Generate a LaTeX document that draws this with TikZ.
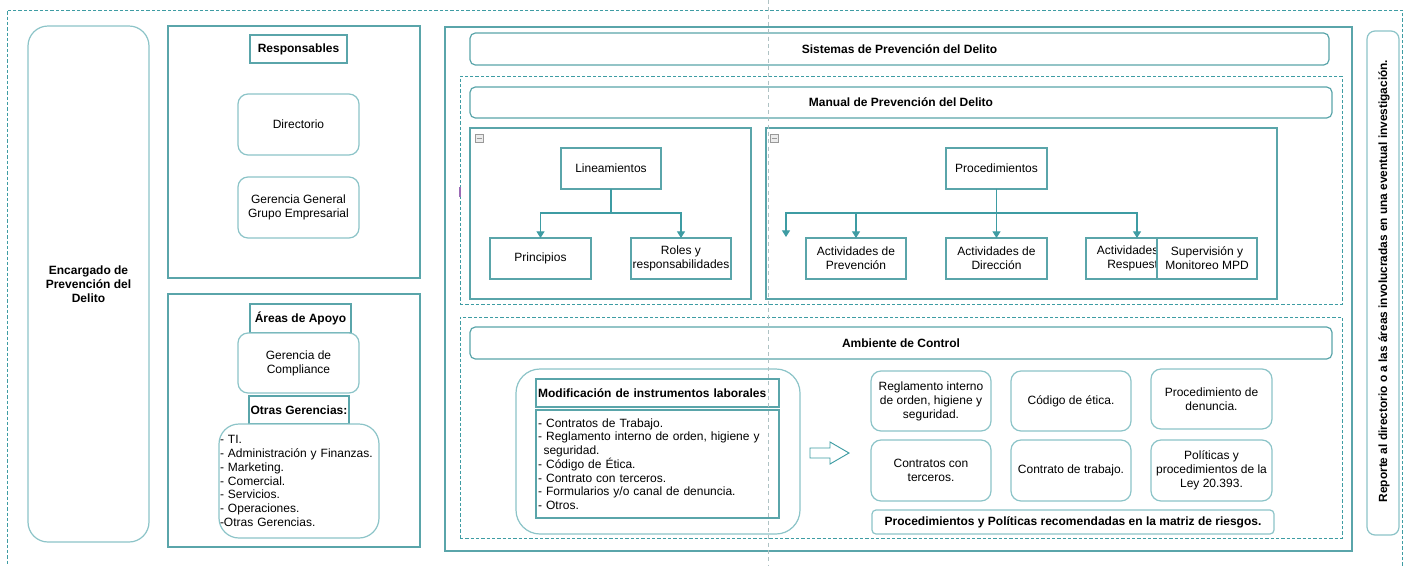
\documentclass[tikz,border=0pt]{standalone}
\usepackage{fontspec}
\setmainfont{Liberation Sans}
\usetikzlibrary{arrows.meta}
\definecolor{tealA}{HTML}{5AA5AA}
\definecolor{tealL}{HTML}{8CC4C8}
\definecolor{tealD}{HTML}{3E9CA3}
\definecolor{guideC}{HTML}{AFC2C4}
\definecolor{markC}{HTML}{9B6BB5}
\tikzset{
  box/.style n args={4}{at={({(#1+#3)/2},{(#2+#4)/2})}, minimum width={(#3-#1)*0.75pt}, minimum height={(#4-#2)*0.75pt}},
  base/.style={inner sep=0pt, outer sep=0pt, align=center, text=black, font=\fontsize{9}{10.5}\selectfont},
  bold/.style={font=\fontsize{9}{10.5}\selectfont\bfseries},
  sq/.style={base, draw=tealA, line width=0.9pt, fill=white},
  rnd/.style={base, draw=tealL, line width=0.9pt, rounded corners=7.5pt, fill=white},
  bar/.style={base, bold, draw=tealA, line width=0.9pt, rounded corners=4pt, fill=white},
  grp/.style={base, draw=tealD, line width=0.6pt, dash pattern=on 2.4pt off 1.6pt},
  guide/.style={draw=guideC, line width=0.5pt, dash pattern=on 3pt off 2.5pt},
  arr/.style={draw=tealD, line width=0.9pt, -{Triangle[width=6pt,length=5pt]}},
  link/.style={draw=tealD, line width=0.9pt},
  minus/.style={draw=gray!80, fill=gray!15, line width=0.4pt},
}
\begin{document}
\begin{tikzpicture}[x=0.75pt,y=-0.75pt]
\useasboundingbox (0,0) rectangle (1404,565);
\fill[white] (0,0) rectangle (1404,565);

% outer dashed frame
\node[grp, box={7}{10}{1402}{600}] (frame) {};

% left column
\node[rnd, bold, rounded corners=15pt, box={28}{26}{149}{542}] (enc) {Encargado de\\Prevención del\\Delito};

\node[sq, box={168}{26}{420}{278}] (resp) {};
\node[sq, bold, box={250}{35}{347}{63}] (respl) {Responsables};
\node[rnd, box={238}{94}{359}{155}] (dir) {Directorio};
\node[rnd, box={238}{177}{359}{238}] (gg) {Gerencia General\\Grupo Empresarial};

\node[sq, box={168}{294}{420}{547}] (areas) {};
\node[sq, bold, box={250}{304}{351}{333}] (areasl) {Áreas de Apoyo};
\node[rnd, box={238}{333}{359}{393}] (comp) {Gerencia de\\Compliance};
\node[sq, bold, box={249}{396}{349}{424}] (otrasl) {Otras Gerencias:};
\node[rnd, rounded corners=15pt, box={219}{424}{379}{538}, align=left, text width=118.5pt, font=\fontsize{9}{10.35}\selectfont] (otras) {- TI.\\- Administración y Finanzas.\\- Marketing.\\- Comercial.\\- Servicios.\\- Operaciones.\\-Otras Gerencias.};

% main box
\node[sq, box={445}{27}{1352}{551}] (main) {};
\node[bar, box={470}{33}{1329}{65}] (sis) {Sistemas de Prevención del Delito};

% manual group
\node[grp, box={460}{76}{1342}{304}] (mangrp) {};
\node[bar, box={470}{87}{1332}{118}] (man) {Manual de Prevención del Delito};
\node[sq, box={470}{128}{751}{299}] (lsub) {};
\node[sq, box={766}{128}{1277}{299}] (rsub) {};
\draw[minus] (475,134) rectangle (483,142);
\draw[gray!80, line width=0.6pt] (476.5,138) -- (481.5,138);
\draw[minus] (770,134) rectangle (778,142);
\draw[gray!80, line width=0.6pt] (771.5,138) -- (776.5,138);
\draw[markC, line width=0.8pt] (460,187) -- (460,197);

\node[sq, box={561}{148}{661}{189}] (lin) {Lineamientos};
\node[sq, box={490}{238}{591}{279}] (prin) {Principios};
\node[sq, box={631}{238}{731}{279}] (roles) {Roles y\\responsabilidades};
\coordinate (lj) at (611,213);
\draw[link] (lin.south) -- (lj);
\draw[arr] (lj) -| (prin.north);
\draw[arr] (lj) -| (roles.north);

\node[sq, box={946}{148}{1047}{189}] (proc) {Procedimientos};
\node[sq, box={806}{238}{906}{279}] (aprev) {Actividades de\\Prevención};
\node[sq, box={946}{238}{1047}{279}] (adir) {Actividades de\\Dirección};
\node[sq, box={1086}{238}{1186}{279}] (aresp) {Actividades de\\Respuesta};
\node[sq, box={1157}{238}{1257}{279}] (sup) {Supervisión y\\Monitoreo MPD};
\coordinate (pj) at (996.5,213);
\coordinate (dang) at (786,237);
\draw[arr] (proc.south) -- (adir.north);
\draw[arr] (pj) -| (aprev.north);
\draw[arr] (pj) -| (dang);
\draw[arr] (pj) -| ([xshift=0.75pt]aresp.north);

% ambiente group
\node[grp, box={460}{317}{1342}{538}] (ambgrp) {};
\node[bar, box={470}{327}{1332}{359}] (amb) {Ambiente de Control};
\node[rnd, rounded corners=18pt, box={516}{369}{800}{534}] (modc) {};
\node[sq, bold, align=left, text width=179pt, box={536}{379}{779}{407}] (modh) {Modificación de instrumentos laborales};
\node[sq, align=left, text width=179pt, box={536}{410}{779}{518}, font=\fontsize{9}{10.3}\selectfont] (modl) {- Contratos de Trabajo.\\
- Reglamento interno de orden, higiene y\\
\hspace*{4pt}seguridad.\\
- Código de Ética.\\
- Contrato con terceros.\\
- Formularios y/o canal de denuncia.\\
- Otros.};
\draw[draw=tealD, line width=0.7pt, fill=white] (810,448) -- (830,448) -- (830,442) -- (849,453) -- (830,464) -- (830,458) -- (810,458) -- cycle;

\node[rnd, box={871}{371}{991}{431}] (reg) {Reglamento interno\\de orden, higiene y\\seguridad.};
\node[rnd, box={1011}{371}{1131}{431}] (cod) {Código de ética.};
\node[rnd, box={1151}{369}{1272}{429}] (den) {Procedimiento de\\denuncia.};
\node[rnd, box={871}{440}{991}{501}] (con) {Contratos con\\terceros.};
\node[rnd, box={1011}{440}{1131}{501}] (ctr) {Contrato de trabajo.};
\node[rnd, box={1151}{440}{1272}{501}] (pol) {Políticas y\\procedimientos de la\\Ley 20.393.};
\node[rnd, bold, rounded corners=3pt, box={872}{510}{1274}{534}] (rec) {Procedimientos y Políticas recomendadas en la matriz de riesgos.};

% right report box
\node[rnd, rounded corners=6pt, box={1367}{31}{1399}{535}] (rep) {};
\node[base, rotate=90, font=\fontsize{8.9}{10}\selectfont\bfseries] (rept) at (1384,281) {Reporte al directorio o a las áreas involucradas en una eventual investigación.};

% center guide
\draw[guide] (768,0) -- (768,565);
\end{tikzpicture}
\end{document}
